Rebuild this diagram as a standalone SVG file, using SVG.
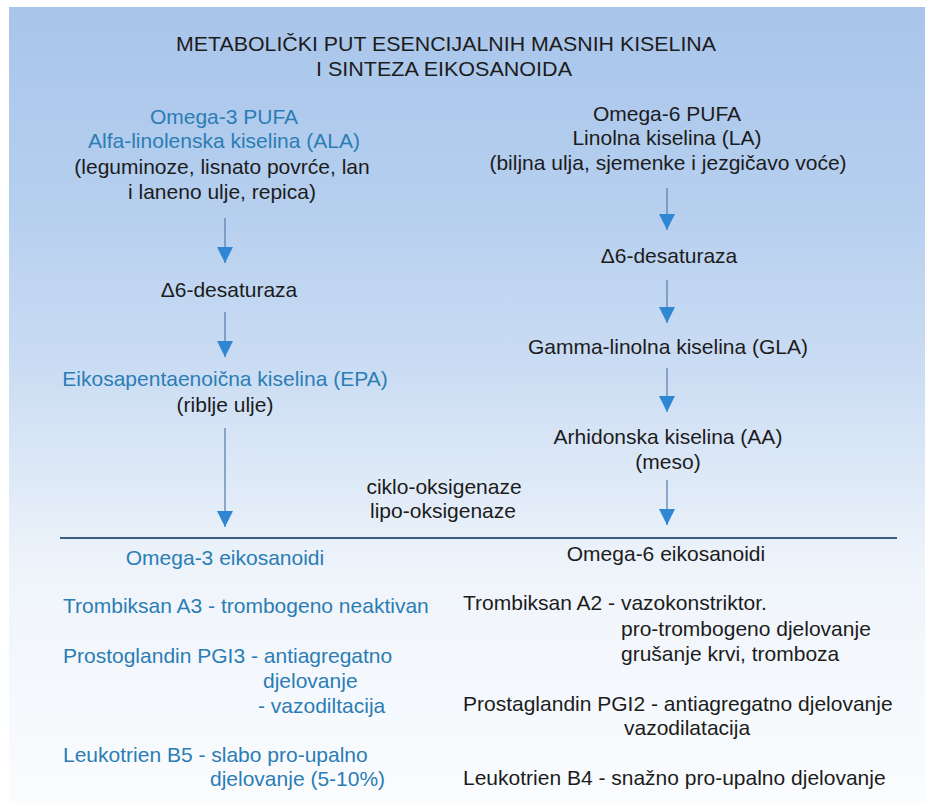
<svg xmlns="http://www.w3.org/2000/svg" width="925" height="803" viewBox="0 0 925 803">
<defs>
<linearGradient id="bg" x1="0" y1="0" x2="0" y2="1">
<stop offset="0" stop-color="#a8c5ea"/>
<stop offset="0.25" stop-color="#b6cfef"/>
<stop offset="0.45" stop-color="#cadcf3"/>
<stop offset="0.62" stop-color="#e2ecf8"/>
<stop offset="0.72" stop-color="#f0f5fb"/>
<stop offset="1" stop-color="#fafcfe"/>
</linearGradient>
<marker id="ah" viewBox="0 0 16 16" refX="16" refY="8" markerWidth="16" markerHeight="16" markerUnits="userSpaceOnUse" orient="auto">
<path d="M0,0 L16,8 L0,16 Z" fill="#2f86d2"/>
</marker>
</defs>
<style>
text{font-family:"Liberation Sans",Arial,sans-serif;font-size:21px;fill:#1c1c1c}
.c{text-anchor:middle}
.b{fill:#2b7db5}
.t{font-size:21px}
.arrow{stroke:#5c82b0;stroke-width:1.3;fill:none}
</style>
<rect x="0" y="0" width="925" height="803" fill="#ffffff"/>
<rect x="9" y="7" width="916" height="796" fill="url(#bg)"/>

<g id="title">
<text class="c t" x="446" y="51" textLength="540" lengthAdjust="spacingAndGlyphs">METABOLIČKI PUT ESENCIJALNIH MASNIH KISELINA</text>
<text class="c t" x="444" y="76" textLength="256" lengthAdjust="spacingAndGlyphs">I SINTEZA EIKOSANOIDA</text>
</g>

<g id="ala">
<text class="c b" x="224" y="124">Omega-3 PUFA</text>
<text class="c b" x="224" y="148">Alfa-linolenska kiselina (ALA)</text>
<text class="c" x="222" y="174">(leguminoze, lisnato povrće, lan</text>
<text class="c" x="222" y="199">i laneno ulje, repica)</text>
</g>
<g id="desat-left"><text class="c" x="229" y="297">Δ6-desaturaza</text></g>
<g id="epa">
<text class="c b" x="225" y="386">Eikosapentaenoična kiselina (EPA)</text>
<text class="c" x="225" y="412">(riblje ulje)</text>
</g>
<g id="enzymes">
<text class="c" x="444" y="494">ciklo-oksigenaze</text>
<text class="c" x="443" y="518">lipo-oksigenaze</text>
</g>

<g id="la">
<text class="c" x="667" y="121">Omega-6 PUFA</text>
<text class="c" x="667" y="145">Linolna kiselina (LA)</text>
<text class="c" x="668" y="170">(biljna ulja, sjemenke i jezgičavo voće)</text>
</g>
<g id="desat-right"><text class="c" x="669" y="263">Δ6-desaturaza</text></g>
<g id="gla"><text class="c" x="668" y="354">Gamma-linolna kiselina (GLA)</text></g>
<g id="aa">
<text class="c" x="668" y="444">Arhidonska kiselina (AA)</text>
<text class="c" x="668" y="469">(meso)</text>
</g>

<g id="connectors">
<line x1="225" y1="218" x2="225" y2="263" class="arrow" marker-end="url(#ah)"/>
<line x1="225" y1="312" x2="225" y2="357" class="arrow" marker-end="url(#ah)"/>
<line x1="225" y1="428" x2="225" y2="527" class="arrow" marker-end="url(#ah)"/>
<line x1="667" y1="188" x2="667" y2="230" class="arrow" marker-end="url(#ah)"/>
<line x1="667" y1="280" x2="667" y2="323" class="arrow" marker-end="url(#ah)"/>
<line x1="667" y1="368" x2="667" y2="412" class="arrow" marker-end="url(#ah)"/>
<line x1="667" y1="480" x2="667" y2="525" class="arrow" marker-end="url(#ah)"/>
<line x1="60" y1="538" x2="897" y2="538" stroke="#3d5f80" stroke-width="2"/>
</g>

<g id="omega3-eicosanoids">
<text class="c b" x="225" y="565">Omega-3 eikosanoidi</text>
<text class="b" x="63" y="613">Trombiksan A3 - trombogeno neaktivan</text>
<text class="b" x="63" y="663">Prostoglandin PGI3 - antiagregatno</text>
<text class="b" x="263" y="688">djelovanje</text>
<text class="b" x="258" y="713">- vazodiltacija</text>
<text class="b" x="63" y="762">Leukotrien B5 - slabo pro-upalno</text>
<text class="b" x="210" y="786">djelovanje (5-10%)</text>
</g>

<g id="omega6-eicosanoids">
<text class="c" x="666" y="561">Omega-6 eikosanoidi</text>
<text x="463" y="610">Trombiksan A2 - vazokonstriktor.</text>
<text x="621" y="636">pro-trombogeno djelovanje</text>
<text x="621" y="661">grušanje krvi, tromboza</text>
<text x="463" y="711">Prostaglandin PGI2 - antiagregatno djelovanje</text>
<text x="624" y="735">vazodilatacija</text>
<text x="463" y="785">Leukotrien B4 - snažno pro-upalno djelovanje</text>
</g>
</svg>
